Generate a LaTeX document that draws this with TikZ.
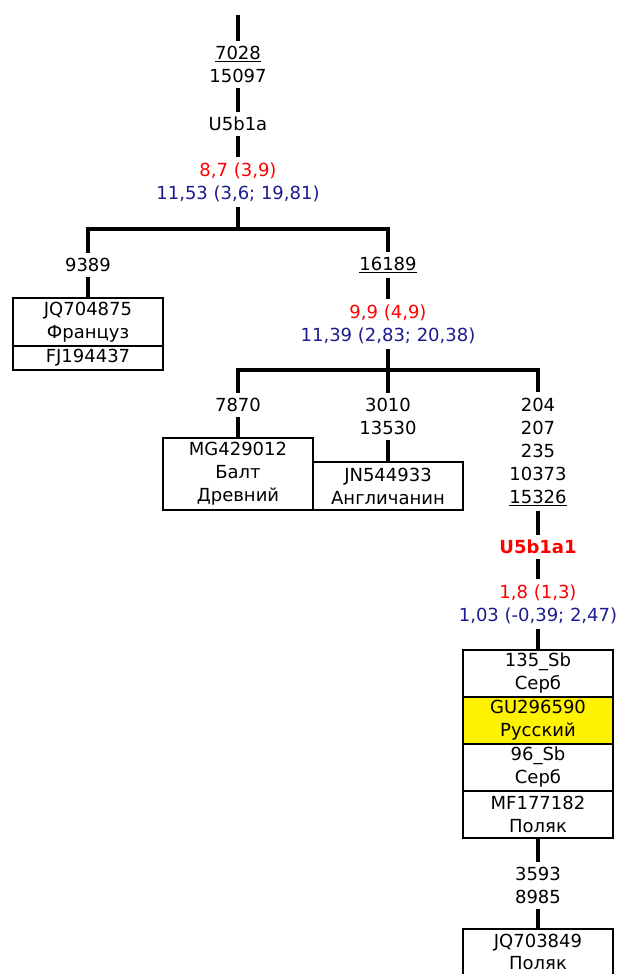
\documentclass[tikz,border=0pt]{standalone}
\usepackage{fontspec}
\setmainfont{DejaVu Sans}
\usepackage{tikz}
\usetikzlibrary{positioning}
\definecolor{estred}{RGB}{255,0,0}
\definecolor{ciblue}{RGB}{28,28,142}
\tikzstyle{stem} = [line width=4pt]
\tikzstyle{lbl} = [inner xsep=0pt, inner ysep=5pt, align=center, font=\fontsize{18}{23}\selectfont]
\tikzstyle{cell} = [rectangle, draw=black, line width=1.6pt, minimum width=150pt, minimum height=47pt, inner sep=0pt, outer sep=0pt, align=center, font=\fontsize{18}{23}\selectfont]

\begin{document}
\begin{tikzpicture}[x=1pt, y=-1pt]
  \useasboundingbox (0,0) rectangle (619,974);

  % Корень U5b1a
  \coordinate (root) at (238,15);
  \node[lbl] (mut1) at (238,64.5) {\underline{7028}\\15097};
  \node[lbl] (u5b1a) at (238,124) {U5b1a};
  \node[lbl] (age1) at (238,182) {\textcolor{estred}{8,7 (3,9)}\\\textcolor{ciblue}{11,53 (3,6; 19,81)}};
  \coordinate (fork1) at (238,229);

  % Левая ветвь
  \node[lbl] (mut9389) at (88,265) {9389};
  \node[cell, minimum height=48pt, anchor=north] (jq704875) at (88,298) {JQ704875\\Француз};
  \node[cell, minimum height=24pt, below=0pt of jq704875] (fj194437) {FJ194437};

  % Правая ветвь 16189
  \node[lbl] (mut16189) at (388,265) {\underline{16189}};
  \node[lbl] (age2) at (388,324) {\textcolor{estred}{9,9 (4,9)}\\\textcolor{ciblue}{11,39 (2,83; 20,38)}};
  \coordinate (fork2) at (388,370);

  % Три подветви
  \node[lbl] (mut7870) at (238,405) {7870};
  \node[cell, minimum height=72pt, anchor=south] (mg429012) at (238,510) {MG429012\\Балт\\Древний};
  \node[lbl] (mut3010) at (388,416.5) {3010\\13530};
  \node[cell, minimum height=48pt, anchor=south west] (jn544933) at (mg429012.south east) {JN544933\\Англичанин};
  \node[lbl] (mut204) at (538,451.5) {204\\207\\235\\10373\\\underline{15326}};

  % Ветвь U5b1a1
  \node[lbl, font=\fontsize{18}{23}\selectfont\bfseries, text=estred] (u5b1a1) at (538,547) {U5b1a1};
  \node[lbl] (age3) at (538,604) {\textcolor{estred}{1,8 (1,3)}\\\textcolor{ciblue}{1,03 (-0,39; 2,47)}};
  \node[cell, anchor=north] (sb135) at (538,650) {135\_Sb\\Серб};
  \node[cell, fill=yellow, below=0pt of sb135] (gu296590) {GU296590\\Русский};
  \node[cell, below=0pt of gu296590] (sb96) {96\_Sb\\Серб};
  \node[cell, below=0pt of sb96] (mf177182) {MF177182\\Поляк};
  \node[lbl] (mut3593) at (538,885) {3593\\8985};
  \node[cell, minimum height=46pt, font=\fontsize{18}{22}\selectfont, anchor=north] (jq703849) at (538,929) {JQ703849\\Поляк};

  % Линии ствола
  \draw[stem] (root) -- (mut1.north);
  \draw[stem] (mut1.south) -- (u5b1a.north);
  \draw[stem] (u5b1a.south) -- (age1.north);
  \draw[stem] (age1.south) -- (fork1);
  \draw[stem] (mut9389.north) |- (fork1) -| (mut16189.north);
  \draw[stem] (mut9389.south) -- (jq704875.north);

  \draw[stem] (mut16189.south) -- (age2.north);
  \draw[stem] (age2.south) -- (fork2);
  \draw[stem] (mut7870.north) |- (fork2) -| (mut204.north);
  \draw[stem] (fork2) -- (mut3010.north);
  \draw[stem] (mut7870.south) -- (mg429012.north);
  \draw[stem] (mut3010.south) -- (jn544933.north);

  \draw[stem] (mut204.south) -- (u5b1a1.north);
  \draw[stem] (u5b1a1.south) -- (age3.north);
  \draw[stem] (age3.south) -- (sb135.north);
  \draw[stem] (mf177182.south) -- (mut3593.north);
  \draw[stem] (mut3593.south) -- (jq703849.north);
\end{tikzpicture}
\end{document}
